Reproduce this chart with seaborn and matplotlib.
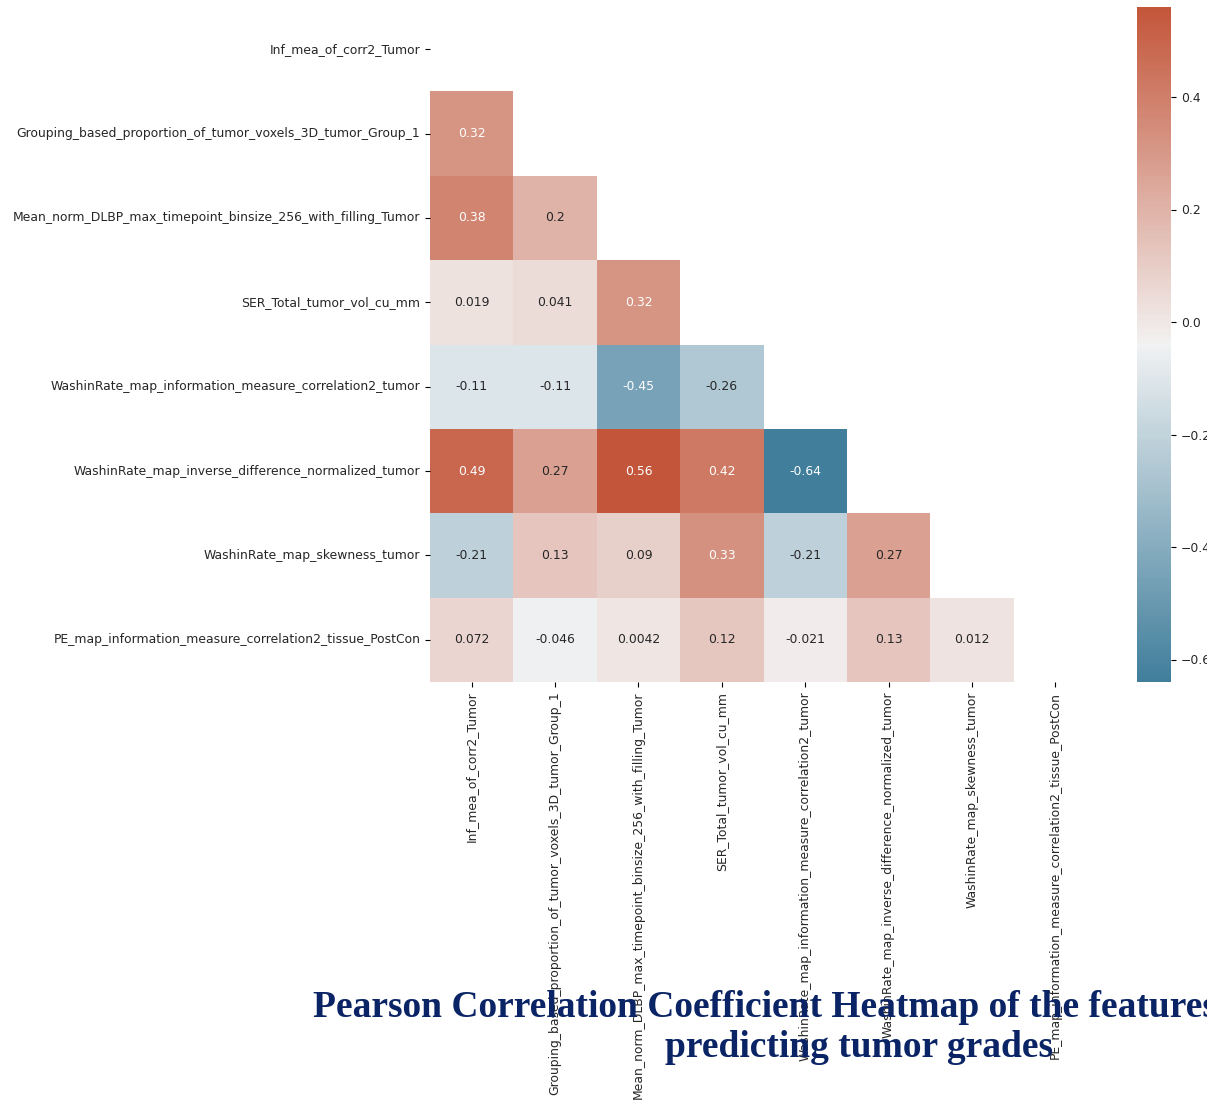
import numpy as np
import pandas as pd
import matplotlib
matplotlib.use("Agg")
import matplotlib.pyplot as plt
import seaborn as sns

features = [
    "Inf_mea_of_corr2_Tumor",
    "Grouping_based_proportion_of_tumor_voxels_3D_tumor_Group_1",
    "Mean_norm_DLBP_max_timepoint_binsize_256_with_filling_Tumor",
    "SER_Total_tumor_vol_cu_mm",
    "WashinRate_map_information_measure_correlation2_tumor",
    "WashinRate_map_inverse_difference_normalized_tumor",
    "WashinRate_map_skewness_tumor",
    "PE_map_information_measure_correlation2_tissue_PostCon",
]

# Lower-triangle Pearson coefficients, one list per row (row i holds i values)
row_grouping = [0.32]
row_mean_norm = [0.38, 0.2]
row_ser = [0.019, 0.041, 0.32]
row_washin_info = [-0.11, -0.11, -0.45, -0.26]
row_washin_invdiff = [0.49, 0.27, 0.56, 0.42, -0.64]
row_washin_skew = [-0.21, 0.13, 0.09, 0.33, -0.21, 0.27]
row_pe_info = [0.072, -0.046, 0.0042, 0.12, -0.021, 0.13, 0.012]

lower_rows = [[], row_grouping, row_mean_norm, row_ser, row_washin_info,
              row_washin_invdiff, row_washin_skew, row_pe_info]

title_line1 = "Pearson Correlation Coefficient Heatmap of the features"
title_line2 = "predicting tumor grades"

# Assemble the symmetric correlation matrix
n = len(features)
corr = np.eye(n)
for i, row in enumerate(lower_rows):
    for j, v in enumerate(row):
        corr[i, j] = v
        corr[j, i] = v
corr = pd.DataFrame(corr, index=features, columns=features)

mask = np.triu(np.ones_like(corr, dtype=bool))

plt.rcParams["font.size"] = 8.9
plt.rcParams["font.family"] = ["DejaVu Sans"]
plt.rcParams["xtick.labelcolor"] = "0.15"
plt.rcParams["ytick.labelcolor"] = "0.15"

W, H = 1207, 1100
fig = plt.figure(figsize=(W / 100, H / 100), dpi=100)
ax = fig.add_axes([430 / W, 1 - 682 / H, 667 / W, 675 / H])
cax = fig.add_axes([1137 / W, 1 - 682 / H, 34 / W, 675 / H])

cmap = sns.diverging_palette(230, 20, as_cmap=True)
sns.heatmap(corr, mask=mask, cmap=cmap, annot=True, ax=ax, cbar_ax=cax)

ax.set_xticklabels(features, rotation=90)
ax.set_yticklabels(features, rotation=0)
for spine in cax.spines.values():
    spine.set_visible(False)

title_style = dict(fontsize=27, fontweight="bold", family="Liberation Serif",
                   color="#0b2465", va="baseline")
fig.text(313 / W, 1 - 1017 / H, title_line1, ha="left", **title_style)
fig.text(859 / W, 1 - 1057 / H, title_line2, ha="center", **title_style)

fig.savefig("out.png", dpi=100)
